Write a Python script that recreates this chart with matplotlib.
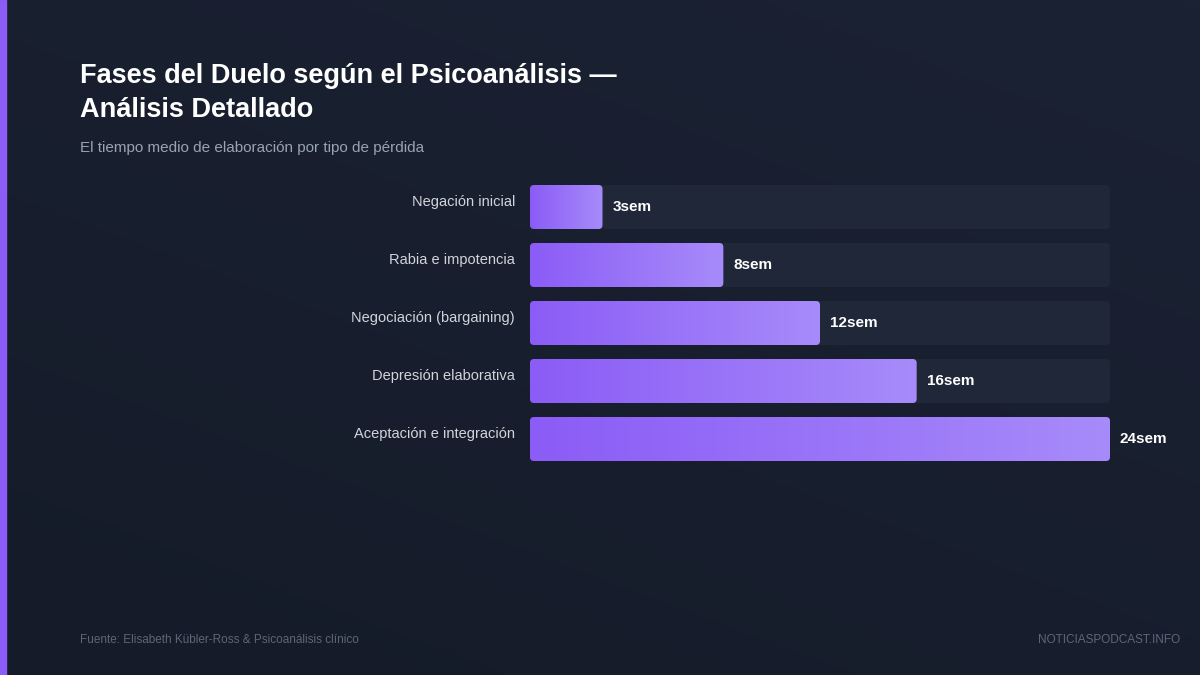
import numpy as np
import matplotlib.pyplot as plt
from matplotlib.patches import FancyBboxPatch, Rectangle
from matplotlib.colors import LinearSegmentedColormap

categories = ["Negación inicial", "Rabia e impotencia", "Negociación (bargaining)",
              "Depresión elaborativa", "Aceptación e integración"]
values = [3, 8, 12, 16, 24]
value_labels = ["3sem", "8sem", "12sem", "16sem", "24sem"]
x_max = 24

plt.rcParams["font.family"] = ["Liberation Sans", "DejaVu Sans"]

fig = plt.figure(figsize=(12, 6.75), dpi=100)

# background
bg = fig.add_axes([0, 0, 1, 1])
bg.axis("off")
yy, xx = np.mgrid[0:1:200j, 0:1:200j]
grad = 0.6 * yy + 0.4 * (1 - xx)
bg_cmap = LinearSegmentedColormap.from_list("bg", ["#1b2234", "#151b28"])
bg.imshow(grad, cmap=bg_cmap, extent=[0, 1, 0, 1], aspect="auto", origin="upper")
bg.add_patch(Rectangle((0, 0), 6 / 1200, 1, color="#8b5cf6", transform=bg.transAxes))
bg.set_xlim(0, 1)
bg.set_ylim(0, 1)

fig.text(80 / 1200, 1 - 93 / 675, "Fases del Duelo según el Psicoanálisis —\nAnálisis Detallado",
         color="white", fontsize=19.5, fontweight="bold", va="center", ha="left", linespacing=1.4)
fig.text(80 / 1200, 1 - 148 / 675, "El tiempo medio de elaboración por tipo de pérdida",
         color="#9aa3b2", fontsize=11, va="center")
fig.text(80 / 1200, 1 - 640 / 675, "Fuente: Elisabeth Kübler-Ross & Psicoanálisis clínico",
         color="#5d6678", fontsize=8.5, va="center")
fig.text(1180 / 1200, 1 - 640 / 675, "NOTICIASPODCAST.INFO",
         color="#5d6678", fontsize=8.5, va="center", ha="right")

ax = fig.add_axes([530 / 1200, 1 - 461 / 675, 580 / 1200, 276 / 675])
ax.axis("off")
h = 44 / 58

px_x = 580 / x_max
px_y = 58
aspect = px_x / px_y
rad = 4 / px_x
bar_cmap = LinearSegmentedColormap.from_list("bar", ["#8b5cf6", "#a78bfa"])
g = np.linspace(0, 1, 256).reshape(1, -1)

for i, (cat, v, lab) in enumerate(zip(categories, values, value_labels)):
    y0 = i - h / 2
    track = FancyBboxPatch((0, y0), x_max, h, boxstyle=f"round,pad=0,rounding_size={rad}",
                           mutation_aspect=aspect, facecolor="#1f2738", edgecolor="none")
    ax.add_patch(track)
    bar = FancyBboxPatch((0, y0), v, h, boxstyle=f"round,pad=0,rounding_size={rad}",
                         mutation_aspect=aspect, facecolor="none", edgecolor="none")
    ax.add_patch(bar)
    im = ax.imshow(g, cmap=bar_cmap, extent=[0, v, y0 + h, y0], aspect="auto", zorder=2)
    im.set_clip_path(bar)
    ax.text(v + 10 / px_x, i, lab, color="white", fontsize=11, fontweight="bold",
            va="center", ha="left")
    ax.text(-15 / px_x, i - 5 / px_y, cat, color="#d1d5db", fontsize=10.5,
            va="center", ha="right")

ax.set_xlim(0, x_max)
ax.set_ylim(len(values) - 1 + h / 2, -h / 2)

fig.savefig("out.png", dpi=100)
